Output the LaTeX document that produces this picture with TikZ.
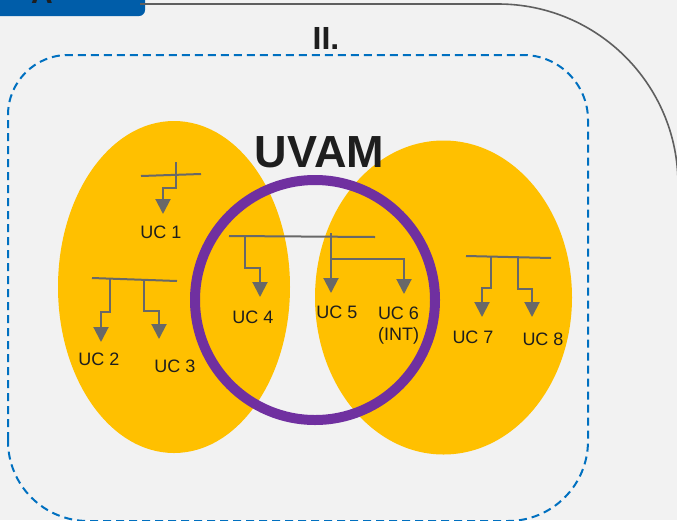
\documentclass[tikz,border=0pt]{standalone}
\usepackage{fontspec}
\setmainfont{Liberation Sans}
\usetikzlibrary{arrows.meta}

\definecolor{bgray}{HTML}{F2F2F2}
\definecolor{tabblue}{HTML}{005DA9}
\definecolor{frameline}{HTML}{5F5F5F}
\definecolor{zoneblue}{HTML}{0070C0}
\definecolor{ucyellow}{HTML}{FFC000}
\definecolor{uvampurple}{HTML}{7030A0}
\definecolor{feeder}{HTML}{686868}
\definecolor{inktext}{HTML}{1E1E1E}

\tikzset{
  busline/.style={draw=feeder, line width=2pt},
  feedline/.style={draw=feeder, line width=2pt, line join=miter,
                   -{Triangle[length=15pt,width=15pt]}},
  uclabel/.style={text=inktext, font=\fontsize{18}{21}\selectfont,
                  inner sep=0pt, align=center},
}

\begin{document}
\begin{tikzpicture}[x=1pt,y=-1pt]
  \useasboundingbox (0,0) rectangle (677,520);
  \clip (0,0) rectangle (677,520);
  \fill[bgray] (0,0) rectangle (677,520);

  % header tab and outer frame
  \fill[tabblue, rounded corners=6pt] (-20,-20) rectangle (145,16);
  \node[text=inktext, font=\bfseries\fontsize{30}{30}\selectfont,
        anchor=base, inner sep=0pt] (tabtext) at (42,3) {A};
  \draw[frameline, line width=1.6pt, rounded corners=180pt]
    (140,4) -- (678,4) -- (678,560);
  \node[text=inktext, font=\bfseries\fontsize{32}{32}\selectfont,
        inner sep=0pt] (zonetitle) at (326,38) {II.};

  % dashed zone boundary
  \draw[zoneblue, line width=2pt, dash pattern=on 8pt off 5pt]
    (8,440) -- (8,115) arc[start angle=180, end angle=270, radius=60]
    -- (523,55) arc[start angle=270, end angle=360, radius=65]
    -- (588,441) arc[start angle=0, end angle=90, radius=80]
    -- (88,521) arc[start angle=90, end angle=180, radius=80] -- cycle;

  % two yellow areas and the UVAM ring
  \fill[ucyellow] (174,287) ellipse [x radius=116, y radius=166];
  \fill[ucyellow] (443.5,297.5) ellipse [x radius=128.5, y radius=157];
  \draw[uvampurple, line width=10pt] (315,300) circle [radius=120];
  \node[text=inktext, font=\bfseries\fontsize{45}{45}\selectfont,
        inner sep=0pt] (uvam) at (319.5,152) {UVAM};

  % UC 1
  \coordinate (b1a) at (141,176); \coordinate (b1b) at (201,174);
  \draw[busline] (b1a) -- (b1b);
  \coordinate (f1) at (176,162); \coordinate (t1) at (163,214);
  \draw[feedline] (f1) -- (176,188) -- (163,188) -- (t1);
  \node[uclabel] (uc1) at (161,232) {UC 1};

  % UC 2 and UC 3
  \coordinate (b2a) at (92,278); \coordinate (b2b) at (177,281);
  \draw[busline] (b2a) -- (b2b);
  \coordinate (f2) at (110,279); \coordinate (t2) at (101,342);
  \draw[feedline] (f2) -- (110,312) -- (101,312) -- (t2);
  \coordinate (f3) at (144,280); \coordinate (t3) at (159,339);
  \draw[feedline] (f3) -- (144,311) -- (159,311) -- (t3);
  \node[uclabel] (uc2) at (99,359) {UC 2};
  \node[uclabel] (uc3) at (175,366) {UC 3};

  % UC 4, UC 5 and UC 6 on the shared bus
  \coordinate (b3a) at (229,236); \coordinate (b3b) at (375,237);
  \draw[busline] (b3a) -- (b3b);
  \coordinate (f4) at (245,236); \coordinate (t4) at (260,297);
  \draw[feedline] (f4) -- (245,268) -- (260,268) -- (t4);
  \coordinate (f5) at (331,233); \coordinate (t5) at (331,293);
  \draw[feedline] (f5) -- (t5);
  \coordinate (f6) at (331,259); \coordinate (t6) at (404,294);
  \draw[feedline] (f6) -- (404,259) -- (t6);
  \node[uclabel] (uc4) at (253,317) {UC 4};
  \node[uclabel] (uc5) at (337,312) {UC 5};
  \node[uclabel] (uc6) at (398.5,325.5) {UC 6\\(INT)};

  % UC 7 and UC 8
  \coordinate (b4a) at (466,256); \coordinate (b4b) at (551,258);
  \draw[busline] (b4a) -- (b4b);
  \coordinate (f7) at (491,256); \coordinate (t7) at (482,317);
  \draw[feedline] (f7) -- (491,288) -- (482,288) -- (t7);
  \coordinate (f8) at (518,257); \coordinate (t8) at (532,317);
  \draw[feedline] (f8) -- (518,289) -- (532,289) -- (t8);
  \node[uclabel] (uc7) at (473,337) {UC 7};
  \node[uclabel] (uc8) at (543,339) {UC 8};
\end{tikzpicture}
\end{document}
